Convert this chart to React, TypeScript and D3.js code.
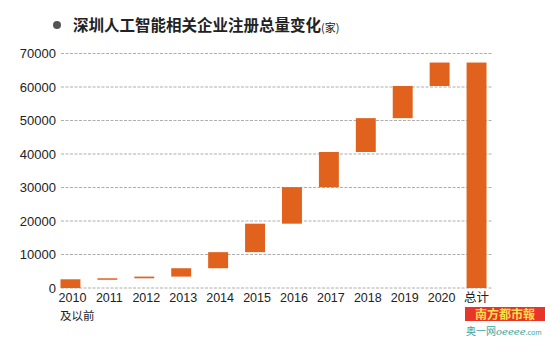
import React from "react";
import * as d3 from "d3";

const categories = ["2010", "2011", "2012", "2013", "2014", "2015", "2016", "2017", "2018", "2019", "2020", "总计"];
const cumulativeTotals = [2600, 2900, 3400, 5900, 10700, 19200, 30100, 40600, 50700, 60300, 67300];
const grandTotal = 67300;
const yTicks = [0, 10000, 20000, 30000, 40000, 50000, 60000, 70000];
const title = "深圳人工智能相关企业注册总量变化";
const unit = "(家)";
const firstSubLabel = "及以前";

const W = 545, H = 339;
const BAR = "#E0621C";

export default function App() {
  const x = d3.scaleBand<string>().domain(categories).range([52, 495]).paddingInner(0.46).paddingOuter(0.23);
  const y = d3.scaleLinear().domain([0, 70000]).range([288, 53.5]);
  const bars = categories.map((c, i) => {
    if (i === categories.length - 1) return { c, y0: 0, y1: grandTotal };
    const y0 = i === 0 ? 0 : cumulativeTotals[i - 1];
    return { c, y0, y1: cumulativeTotals[i] };
  });
  const font = "Liberation Sans, Arial, sans-serif";
  return (
    <svg width={W} height={H} style={{ position: "absolute", left: 0, top: 0, background: "#fff" }} fontFamily={font}>
      <circle cx={57} cy={25} r={4} fill="#555" />
      <text x={73} y={31} fontSize={15.5} fontWeight="bold" fill="#222" fontFamily="Noto Sans CJK SC, sans-serif">
        {title}
        <tspan fontSize={11} fontWeight="normal" dy={1}>{unit}</tspan>
      </text>
      {yTicks.map((t) => (
        <g key={t}>
          <line x1={61} x2={493} y1={y(t)} y2={y(t)} stroke="#999" strokeWidth={0.8} strokeDasharray="3,1.5" />
          <text x={56} y={y(t)} dy="0.35em" textAnchor="end" fontSize={13} fill="#222">{t}</text>
        </g>
      ))}
      {bars.map((b) => {
        const top = y(b.y1), bot = y(b.y0);
        return <rect key={b.c} x={x(b.c)!} width={x.bandwidth()} y={top} height={Math.max(1.5, bot - top)} fill={BAR} />;
      })}
      {categories.map((c, i) => (
        <text key={c} x={x(c)! + x.bandwidth() / 2 + (i === categories.length - 1 ? 0 : 2)} y={302} textAnchor="middle" fontSize={12.5} fill="#222"
          fontFamily={i === categories.length - 1 ? "Noto Sans CJK SC, sans-serif" : font}>{c}</text>
      ))}
      <text x={60} y={320} fontSize={11.5} fill="#222" fontFamily="Noto Sans CJK SC, sans-serif">{firstSubLabel}</text>
      <rect x={465} y={307} width={80} height={14} fill="#E8352B" />
      <text x={505} y={318.5} textAnchor="middle" fontSize={12} fontWeight="bold" fill="#F7E04A" fontFamily="Noto Sans CJK SC, sans-serif">南方都市報</text>
      <text x={466} y={335} fontSize={10} fill="#3AA6A0" fontFamily="Noto Sans CJK SC, sans-serif">奥一网<tspan fontStyle="italic" fontFamily="DejaVu Serif, serif">oeeee</tspan><tspan fontSize={7}>.com</tspan></text>
    </svg>
  );
}
